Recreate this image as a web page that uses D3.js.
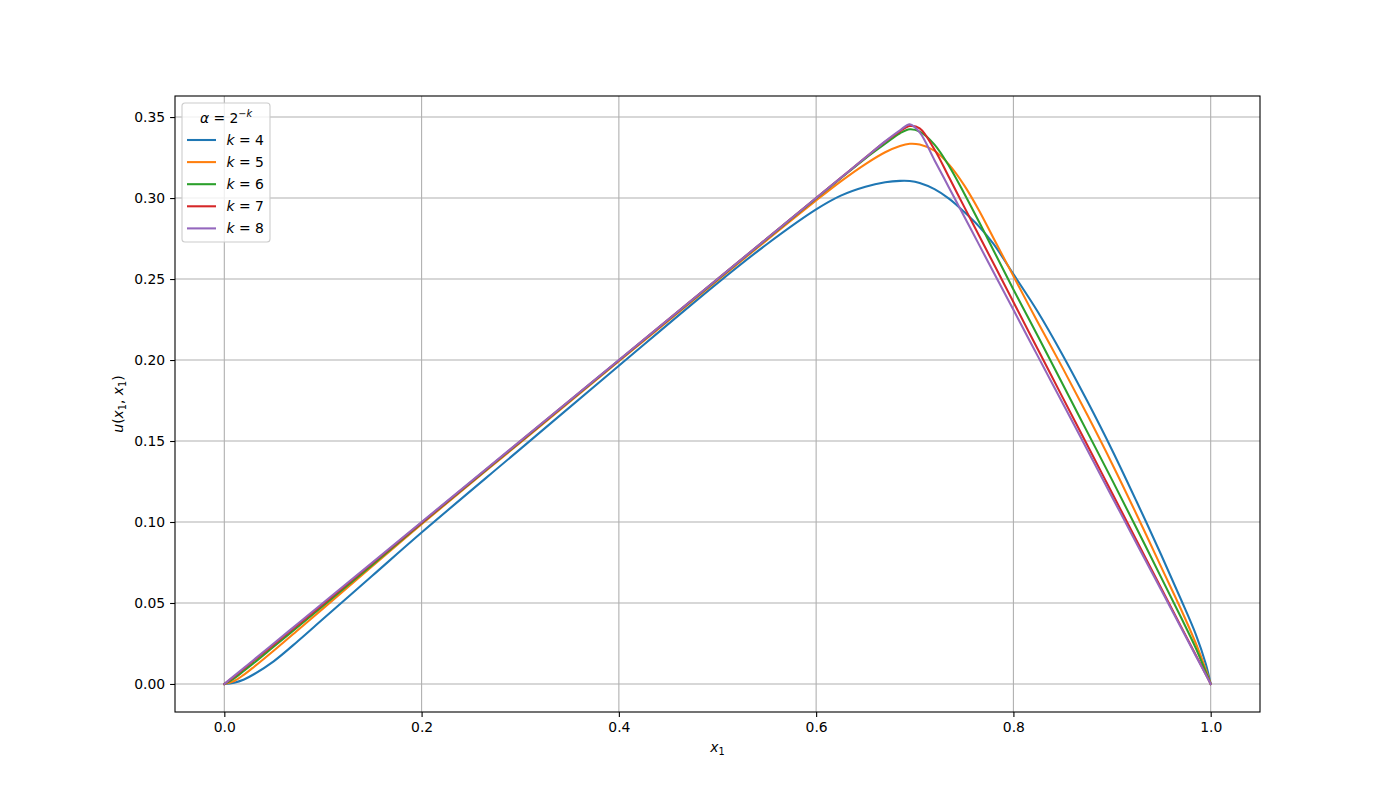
<!DOCTYPE html>
<html>
<head>
<meta charset="utf-8">
<script src="https://cdn.jsdelivr.net/npm/d3@7"></script>
<style>
  body { margin: 0; background: #fff; }
  svg { font-family: "DejaVu Sans", sans-serif; }
</style>
</head>
<body>
<div id="chart"></div>
<script>
// u(x1, x1) along the diagonal, one curve per alpha = 2^-k.
const xGrid = [0, 0.01, 0.02, 0.03, 0.05, 0.075, 0.1, 0.15, 0.2, 0.3, 0.4, 0.5, 0.55, 0.6, 0.625, 0.65, 0.67, 0.685,
    0.695, 0.705, 0.72, 0.735, 0.75, 0.765, 0.78, 0.8, 0.825, 0.85, 0.875, 0.9, 0.925, 0.95, 0.97, 0.985, 0.995, 1.0];

const uK4 = [0, 0.0008, 0.0028, 0.0060, 0.0140, 0.0267, 0.0401, 0.0668, 0.0935, 0.1450, 0.1965, 0.2475, 0.2715, 0.2930, 0.3015, 0.3070, 0.3097, 0.3106,
    0.3105, 0.3093, 0.3055, 0.2995, 0.2915, 0.2825, 0.2715, 0.2530, 0.2295, 0.2030, 0.1745, 0.1445, 0.1125, 0.0795, 0.0520, 0.0305, 0.0125, 0];
const uK5 = [0, 0.0018, 0.0058, 0.0105, 0.0205, 0.0335, 0.0465, 0.0727, 0.0987, 0.1490, 0.1992, 0.2492, 0.2740, 0.2985, 0.3103, 0.3210, 0.3283, 0.3322,
    0.3335, 0.3330, 0.3292, 0.3205, 0.3080, 0.2925, 0.2750, 0.2518, 0.2230, 0.1950, 0.1660, 0.1360, 0.1045, 0.0720, 0.0460, 0.0250, 0.0090, 0];
const uK6 = [0, 0.0035, 0.0082, 0.0130, 0.0230, 0.0355, 0.0482, 0.0735, 0.0993, 0.1495, 0.1997, 0.2498, 0.2748, 0.2998, 0.3122, 0.3245, 0.3335, 0.3400,
    0.3425, 0.3410, 0.3330, 0.3195, 0.3030, 0.2855, 0.2675, 0.2435, 0.2145, 0.1850, 0.1555, 0.1260, 0.0960, 0.0655, 0.0410, 0.0220, 0.0075, 0];
const uK7 = [0, 0.0045, 0.0095, 0.0145, 0.0243, 0.0368, 0.0493, 0.0745, 0.0996, 0.1498, 0.1999, 0.2500, 0.2750, 0.3000, 0.3125, 0.3250, 0.3348, 0.3412,
    0.3445, 0.3430, 0.3300, 0.3125, 0.2947, 0.2770, 0.2594, 0.2358, 0.2063, 0.1768, 0.1474, 0.1179, 0.0884, 0.0590, 0.0354, 0.0177, 0.0060, 0];
const uK8 = [0, 0.0050, 0.0100, 0.0150, 0.0250, 0.0375, 0.0500, 0.0750, 0.1000, 0.1500, 0.2000, 0.2500, 0.2750, 0.3000, 0.3125, 0.3250, 0.3350, 0.3418,
    0.3455, 0.3405, 0.3234, 0.3061, 0.2888, 0.2714, 0.2541, 0.2310, 0.2021, 0.1733, 0.1444, 0.1155, 0.0866, 0.0578, 0.0347, 0.0173, 0.0058, 0];

const kValues = [4, 5, 6, 7, 8];
const seriesValues = [uK4, uK5, uK6, uK7, uK8];
const seriesColors = ["#1f77b4", "#ff7f0e", "#2ca02c", "#d62728", "#9467bd"];

const xTicks = [0, 0.2, 0.4, 0.6, 0.8, 1.0];
const yTicks = [0, 0.05, 0.1, 0.15, 0.2, 0.25, 0.3, 0.35];

const W = 1400, H = 800;
const margin = { top: 96, right: 140, bottom: 88, left: 175 };
const width = W - margin.left - margin.right;
const height = H - margin.top - margin.bottom;

const svg = d3.select("#chart").append("svg")
    .attr("width", W)
    .attr("height", H);

const g = svg.append("g")
    .attr("transform", `translate(${margin.left},${margin.top})`);

const x = d3.scaleLinear().domain([-0.05, 1.05]).range([0, width]);
const y = d3.scaleLinear().domain([-0.0173, 0.363]).range([height, 0]);

// grid
g.append("g")
    .selectAll("line")
    .data(xTicks)
    .enter().append("line")
    .attr("x1", d => x(d)).attr("x2", d => x(d))
    .attr("y1", 0).attr("y2", height)
    .attr("stroke", "#b0b0b0").attr("stroke-width", 1.1);
g.append("g")
    .selectAll("line")
    .data(yTicks)
    .enter().append("line")
    .attr("x1", 0).attr("x2", width)
    .attr("y1", d => y(d)).attr("y2", d => y(d))
    .attr("stroke", "#b0b0b0").attr("stroke-width", 1.1);

// curves
const line = d3.line()
    .x(d => x(d[0]))
    .y(d => y(d[1]))
    .curve(d3.curveCatmullRom.alpha(0.5));

seriesValues.forEach((vals, i) => {
    g.append("path")
        .datum(xGrid.map((xv, j) => [xv, vals[j]]))
        .attr("fill", "none")
        .attr("stroke", seriesColors[i])
        .attr("stroke-width", 2.08)
        .attr("stroke-linejoin", "round")
        .attr("stroke-linecap", "square")
        .attr("d", line);
});

// axes
const xAxis = g.append("g")
    .attr("transform", `translate(0,${height})`)
    .call(d3.axisBottom(x).tickValues(xTicks).tickFormat(d3.format(".1f")).tickSize(4.9).tickPadding(4.9));
const yAxis = g.append("g")
    .call(d3.axisLeft(y).tickValues(yTicks).tickFormat(d3.format(".2f")).tickSize(4.9).tickPadding(4.9));
[xAxis, yAxis].forEach(a => {
    a.select(".domain").remove();
    a.selectAll("line").attr("stroke", "#000").attr("stroke-width", 1.1);
    a.selectAll("text").attr("fill", "#000").style("font-size", "13.9px").style("font-family", "DejaVu Sans");
});

// frame
g.append("rect")
    .attr("width", width).attr("height", height)
    .attr("fill", "none").attr("stroke", "#000").attr("stroke-width", 1.1);

// axis labels
const xLabel = svg.append("text")
    .attr("x", margin.left + x(0.5))
    .attr("y", 752)
    .attr("text-anchor", "middle")
    .style("font-size", "13.9px");
xLabel.append("tspan").attr("font-style", "italic").text("x");
xLabel.append("tspan").attr("baseline-shift", "-25%").style("font-size", "9.7px").text("1");

const yLabel = svg.append("text")
    .attr("transform", `translate(123,${margin.top + height / 2}) rotate(-90)`)
    .attr("text-anchor", "middle")
    .style("font-size", "13.9px");
yLabel.append("tspan").attr("font-style", "italic").text("u");
yLabel.append("tspan").text("(");
yLabel.append("tspan").attr("font-style", "italic").text("x");
yLabel.append("tspan").attr("baseline-shift", "-25%").style("font-size", "9.7px").text("1");
yLabel.append("tspan").text(", ");
yLabel.append("tspan").attr("font-style", "italic").text("x");
yLabel.append("tspan").attr("baseline-shift", "-25%").style("font-size", "9.7px").text("1");
yLabel.append("tspan").text(")");

// legend
const legend = svg.append("g").attr("transform", "translate(182,103)");
legend.append("rect")
    .attr("width", 88).attr("height", 139)
    .attr("rx", 3).attr("ry", 3)
    .attr("fill", "#fff").attr("fill-opacity", 0.8)
    .attr("stroke", "#cccccc").attr("stroke-width", 1.1);

const title = legend.append("text")
    .attr("x", 44).attr("y", 20)
    .attr("text-anchor", "middle")
    .style("font-size", "13.9px");
title.append("tspan").attr("font-style", "italic").text("α");
title.append("tspan").text(" = 2");
const sup = title.append("tspan").attr("dy", -6).style("font-size", "9.7px");
sup.append("tspan").text("−");
sup.append("tspan").attr("font-style", "italic").text("k");

kValues.forEach((k, i) => {
    const rowY = 37 + i * 22.1;
    legend.append("line")
        .attr("x1", 5).attr("x2", 34)
        .attr("y1", rowY).attr("y2", rowY)
        .attr("stroke", seriesColors[i]).attr("stroke-width", 2.08);
    const t = legend.append("text")
        .attr("x", 44.5).attr("y", rowY + 5)
        .style("font-size", "13.9px");
    t.append("tspan").attr("font-style", "italic").text("k");
    t.append("tspan").text(` = ${k}`);
});
</script>
</body>
</html>
